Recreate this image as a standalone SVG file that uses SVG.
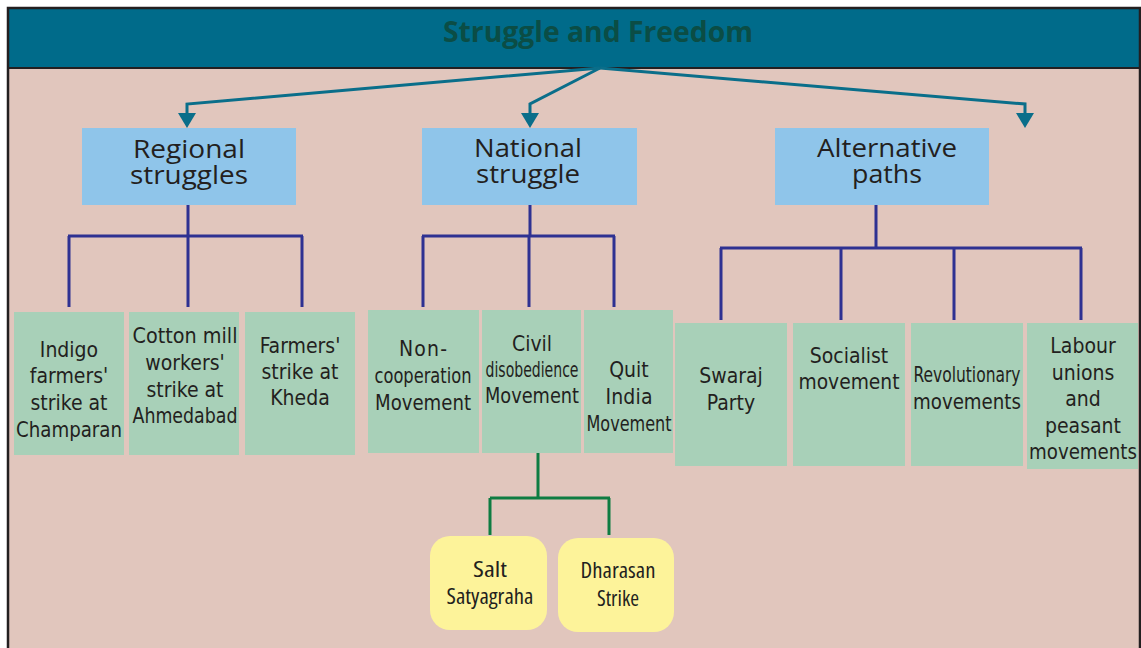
<svg xmlns="http://www.w3.org/2000/svg" width="1141" height="648" viewBox="0 0 1141 648">
  <defs>
    <style>
      .bg { fill: #e1c6bd; }
      .head { fill: #006b8a; }
      .frame { fill: none; stroke: #231f20; stroke-width: 2.5; }
      .title { font-family: "Open Sans", "Liberation Sans", sans-serif; font-weight: 700; font-size: 28px; fill: #0b4d45; text-anchor: middle; }
      .cat { fill: #8fc5ea; }
      .item { fill: #a8d0b8; }
      .sub { fill: #fdf39a; }
      .t1 { font-family: "Open Sans", "Liberation Sans", sans-serif; font-size: 25px; fill: #231f20; text-anchor: middle; }
      .t2 { font-family: "DejaVu Sans Condensed", "DejaVu Sans", sans-serif; font-stretch: condensed; font-size: 21px; fill: #231f20; text-anchor: middle; }
      .t3 { font-family: "Open Sans", "Liberation Sans", sans-serif; font-stretch: condensed; font-size: 21px; fill: #231f20; text-anchor: middle; }
      .teal { fill: none; stroke: #0a6e8a; stroke-width: 3; }
      .navy { fill: none; stroke: #2e3192; stroke-width: 3; }
      .green { fill: none; stroke: #0e7c42; stroke-width: 3; }
    </style>
    <marker id="tip" markerUnits="userSpaceOnUse" markerWidth="15" markerHeight="18" viewBox="0 0 15 18" refX="5" refY="9" orient="auto">
      <path d="M0,0 L15,9 L0,18 z" fill="#0a6e8a"/>
    </marker>
  </defs>

  <!-- panel -->
  <rect x="8" y="8" width="1132" height="640" class="bg"/>
  <rect x="8" y="8" width="1132" height="60" class="head"/>
  <line x1="8" y1="68" x2="1140" y2="68" stroke="#231f20" stroke-width="2"/>
  <rect x="8" y="8" width="1132" height="645" class="frame"/>
  <text x="598" y="42" class="title" textLength="310" lengthAdjust="spacingAndGlyphs">Struggle and Freedom</text>

  <!-- connectors -->
  <g id="connectors">
    <path class="teal" d="M600,68 L187,104 L187,118" marker-end="url(#tip)"/>
    <path class="teal" d="M600,68 L530,104 L530,118" marker-end="url(#tip)"/>
    <path class="teal" d="M600,68 L1025,104 L1025,118" marker-end="url(#tip)"/>

    <path class="navy" d="M188,205 V236 M68,236 H303 M69,236 V307 M188,236 V307 M302,236 V307"/>
    <path class="navy" d="M530,205 V236 M422,236 H615 M423,236 V307 M529,236 V307 M614,236 V307"/>
    <path class="navy" d="M876,205 V248 M720,248 H1082 M721,248 V320 M841,248 V320 M954,248 V320 M1081,248 V320"/>

    <path class="green" d="M538,453 V498 M490,498 H610 M490,498 V535 M609,498 V535"/>
  </g>

  <!-- category nodes -->
  <g id="regional">
    <rect x="82" y="128" width="214" height="77" class="cat"/>
    <text x="189" y="158" class="t1" textLength="112" lengthAdjust="spacingAndGlyphs">Regional</text>
    <text x="189" y="184" class="t1" textLength="118" lengthAdjust="spacingAndGlyphs">struggles</text>
  </g>
  <g id="national">
    <rect x="422" y="128" width="215" height="77" class="cat"/>
    <text x="528" y="157" class="t1" textLength="108" lengthAdjust="spacingAndGlyphs">National</text>
    <text x="528" y="183" class="t1" textLength="104" lengthAdjust="spacingAndGlyphs">struggle</text>
  </g>
  <g id="alternative">
    <rect x="775" y="128" width="214" height="77" class="cat"/>
    <text x="887" y="157" class="t1" textLength="140" lengthAdjust="spacingAndGlyphs">Alternative</text>
    <text x="887" y="183" class="t1" textLength="70" lengthAdjust="spacingAndGlyphs">paths</text>
  </g>

  <!-- regional struggles -->
  <g id="champaran">
    <rect x="14" y="312" width="110" height="143" class="item"/>
    <text x="69" y="357" class="t2">Indigo</text>
    <text x="69" y="383" class="t2">farmers'</text>
    <text x="69" y="410" class="t2">strike at</text>
    <text x="69" y="437" class="t2" textLength="106" lengthAdjust="spacingAndGlyphs">Champaran</text>
  </g>
  <g id="ahmedabad">
    <rect x="129" y="312" width="110" height="143" class="item"/>
    <text x="185" y="343" class="t2" textLength="105" lengthAdjust="spacingAndGlyphs">Cotton mill</text>
    <text x="185" y="370" class="t2">workers'</text>
    <text x="185" y="397" class="t2">strike at</text>
    <text x="185" y="423" class="t2" textLength="105" lengthAdjust="spacingAndGlyphs">Ahmedabad</text>
  </g>
  <g id="kheda">
    <rect x="245" y="312" width="110" height="143" class="item"/>
    <text x="300" y="353" class="t2">Farmers'</text>
    <text x="300" y="379" class="t2">strike at</text>
    <text x="300" y="405" class="t2">Kheda</text>
  </g>

  <!-- national struggle -->
  <g id="noncooperation">
    <rect x="368" y="310" width="111" height="143" class="item"/>
    <text x="423" y="356" class="t2" textLength="48" lengthAdjust="spacing">Non-</text>
    <text x="423" y="383" class="t2" textLength="97" lengthAdjust="spacingAndGlyphs">cooperation</text>
    <text x="423" y="410" class="t2" textLength="96" lengthAdjust="spacingAndGlyphs">Movement</text>
  </g>
  <g id="civil">
    <rect x="482" y="310" width="99" height="143" class="item"/>
    <text x="532" y="351" class="t2">Civil</text>
    <text x="532" y="377" class="t2" textLength="93" lengthAdjust="spacingAndGlyphs">disobedience</text>
    <text x="532" y="403" class="t2" textLength="94" lengthAdjust="spacingAndGlyphs">Movement</text>
  </g>
  <g id="quitindia">
    <rect x="584" y="310" width="89" height="143" class="item"/>
    <text x="629" y="377" class="t2">Quit</text>
    <text x="629" y="404" class="t2" textLength="47" lengthAdjust="spacing">India</text>
    <text x="629" y="431" class="t2" textLength="85" lengthAdjust="spacingAndGlyphs">Movement</text>
  </g>

  <!-- alternative paths -->
  <g id="swaraj">
    <rect x="675" y="323" width="112" height="143" class="item"/>
    <text x="731" y="383" class="t2">Swaraj</text>
    <text x="731" y="410" class="t2">Party</text>
  </g>
  <g id="socialist">
    <rect x="793" y="323" width="112" height="143" class="item"/>
    <text x="849" y="363" class="t2">Socialist</text>
    <text x="849" y="389" class="t2" textLength="101" lengthAdjust="spacingAndGlyphs">movement</text>
  </g>
  <g id="revolutionary">
    <rect x="911" y="323" width="112" height="143" class="item"/>
    <text x="967" y="382" class="t2" textLength="107" lengthAdjust="spacingAndGlyphs">Revolutionary</text>
    <text x="967" y="409" class="t2" textLength="108" lengthAdjust="spacingAndGlyphs">movements</text>
  </g>
  <g id="labour">
    <rect x="1027" y="323" width="111" height="146" class="item"/>
    <text x="1083" y="353" class="t2">Labour</text>
    <text x="1083" y="380" class="t2">unions</text>
    <text x="1083" y="406" class="t2">and</text>
    <text x="1083" y="433" class="t2">peasant</text>
    <text x="1083" y="459" class="t2" textLength="108" lengthAdjust="spacingAndGlyphs">movements</text>
  </g>

  <!-- civil disobedience offshoots -->
  <g id="salt">
    <rect x="430" y="536" width="117" height="94" rx="20" class="sub"/>
    <text x="490" y="577" class="t3" textLength="34" lengthAdjust="spacingAndGlyphs">Salt</text>
    <text x="490" y="604" class="t3" textLength="87" lengthAdjust="spacingAndGlyphs">Satyagraha</text>
  </g>
  <g id="dharasan">
    <rect x="558" y="538" width="116" height="94" rx="20" class="sub"/>
    <text x="618" y="578" class="t3" textLength="75" lengthAdjust="spacingAndGlyphs">Dharasan</text>
    <text x="618" y="606" class="t3" textLength="42" lengthAdjust="spacingAndGlyphs">Strike</text>
  </g>
</svg>
